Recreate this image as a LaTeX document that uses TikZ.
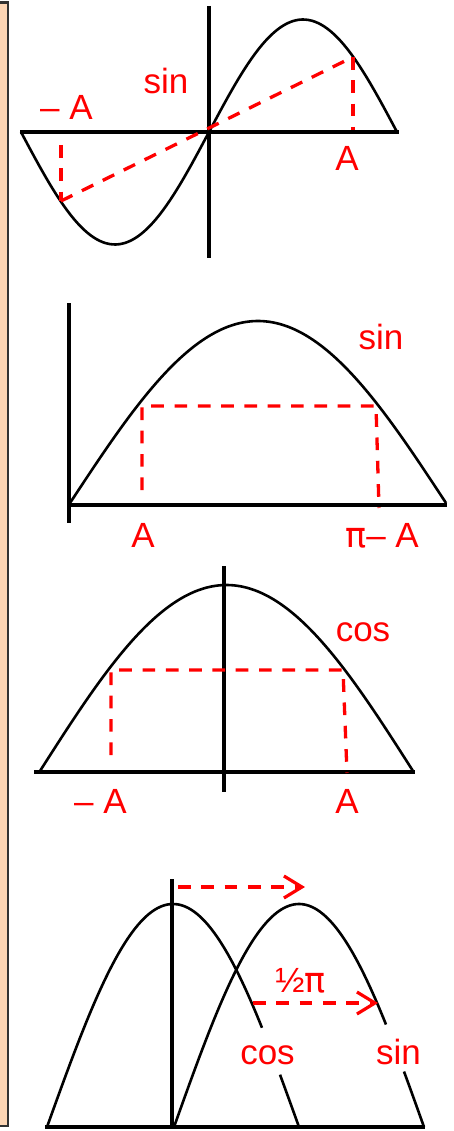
\documentclass[tikz,border=0pt]{standalone}
\usepackage{fontspec}
\setmainfont{Liberation Sans}
\newfontfamily\pifont{DejaVu Sans}
\usetikzlibrary{arrows.meta}
\definecolor{peach}{RGB}{252,213,180}
\definecolor{frame}{RGB}{50,50,50}
\tikzset{
  axis/.style={line width=3.6pt, black},
  curve/.style={line width=2.6pt, black, smooth},
  guide/.style={line width=3.3pt, red, dash pattern=on 12.7pt off 10.6pt},
  shiftarrow/.style={guide, -{Straight Barb[length=18pt,width=22pt,line width=3.2pt]}},
  lab/.style={text=red, inner sep=0pt, anchor=base, font=\fontsize{35}{40}\selectfont},
}
\begin{document}
\begin{tikzpicture}[x=1pt,y=-1pt]
\useasboundingbox (0,0) rectangle (454,1131);
% left strip
\fill[peach] (-10,2.5) rectangle (8,1126);
\draw[frame, line width=2.4pt] (-10,2.5) -- (8,2.5) -- (8,1126) -- (-10,1126);

% ---------- panel 1 : sin, odd ----------
\coordinate (o1) at (209,132);
\draw[curve] plot[domain=21:397, samples=120] (\x, {132 - 112.5*sin(((\x-209)/188)*180)});
\draw[axis] (20,132) -- (399,132);
\draw[axis] (209,6) -- (209,258);
\coordinate (p1l) at (61,201);
\coordinate (p1la) at (61,145);
\coordinate (p1r) at (353,57);
\coordinate (p1ra) at (353,130);
\draw[guide] (p1l) -- (p1r);
\draw[guide] (p1la) -- (p1l);
\draw[guide] (p1r) -- (p1ra);
\node[lab] (s1) at (166,94) {sin};
\node[lab] (ma1) at (66.5,120) {– A};
\node[lab] (a1) at (347,171) {A};

% ---------- panel 2 : sin, pi - A ----------
\draw[curve] plot[domain=70:446, samples=120] (\x, {503 - 182*sin(((\x-70)/376)*180)});
\draw[axis] (69,505) -- (447,505);
\draw[axis] (69,303) -- (69,523);
\coordinate (p2l) at (142,406);
\coordinate (p2r) at (376,406);
\coordinate (p2lb) at (142,490);
\coordinate (p2rb) at (379,508);
\draw[guide] (p2lb) -- (p2l) -- (p2r) -- (p2rb);
\node[lab] (s2) at (381,349) {sin};
\node[lab] (a2) at (143,547) {A};
\node[lab] (pa2) at (382,547) {{\pifont π}– A};

% ---------- panel 3 : cos, even ----------
\draw[curve] plot[domain=40:413, samples=120] (\x, {771 - 186*cos(((\x-226.5)/186.5)*90)});
\draw[axis] (34,772) -- (415,772);
\draw[axis] (224,566) -- (224,792);
\coordinate (p3l) at (111,670);
\coordinate (p3r) at (343,670);
\coordinate (p3lb) at (111,755);
\coordinate (p3rb) at (347,773);
\draw[guide] (p3lb) -- (p3l) -- (p3r) -- (p3rb);
\node[lab] (c3) at (363,641) {cos};
\node[lab] (ma3) at (100.5,813) {– A};
\node[lab] (a3) at (347,813) {A};

% ---------- panel 4 : cos shifted to sin ----------
\draw[curve] plot[domain=47:262, samples=100] (\x, {1127 - 223*cos(((\x-173)/126)*90)});
\draw[curve] plot[domain=280:299, samples=20] (\x, {1127 - 223*cos(((\x-173)/126)*90)});
\draw[curve] plot[domain=174:386, samples=100] (\x, {1127 - 223*cos(((\x-299)/125)*90)});
\draw[curve] plot[domain=404:424, samples=20] (\x, {1127 - 223*cos(((\x-299)/125)*90)});
\draw[axis] (45,1127) -- (425,1127);
\draw[axis] (172,879) -- (172,1128);
\coordinate (t4a) at (178,887);
\coordinate (t4b) at (305,887);
\coordinate (m4a) at (253,1003);
\coordinate (m4b) at (378,1003);
\draw[shiftarrow] (t4a) -- (t4b);
\draw[shiftarrow] (m4a) -- (m4b);
\node[lab] (h4) at (300.5,992) {½{\pifont π}};
\node[lab] (c4) at (267.5,1064) {cos};
\node[lab] (s4) at (398.5,1064) {sin};
\end{tikzpicture}
\end{document}
